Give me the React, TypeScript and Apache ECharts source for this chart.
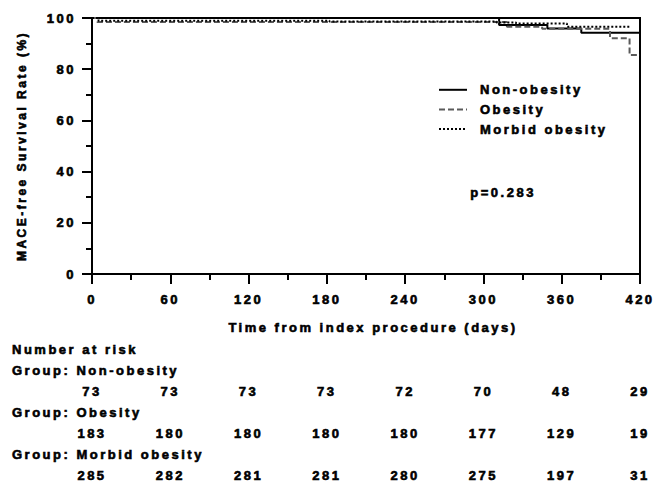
import React, { useEffect, useRef } from "react";
import * as echarts from "echarts";

// Kaplan-Meier step data (time in days, survival %)
const nonObesityTimes = [0, 312, 349, 375, 420];
const nonObesitySurv = [100, 97.3, 95.9, 94.2, 94.2];
const obesityTimes = [0, 4, 318, 345, 397, 412, 420];
const obesitySurv = [100, 98.4, 96.6, 95.8, 92.1, 85.5, 85.5];
const morbidTimes = [0, 5, 182, 310, 325, 364, 412];
const morbidSurv = [100, 98.9, 98.6, 98.2, 97.9, 96.6, 96.6];

const groupNames = ["Non-obesity", "Obesity", "Morbid obesity"];
const riskTimes = [0, 60, 120, 180, 240, 300, 360, 420];
const atRiskNonObesity = [73, 73, 73, 73, 72, 70, 48, 29];
const atRiskObesity = [183, 180, 180, 180, 180, 177, 129, 19];
const atRiskMorbid = [285, 282, 281, 281, 280, 275, 197, 31];
const pValueText = "p=0.283";

const FONT = "'Liberation Sans', Arial, sans-serif";

function pairs(t: number[], s: number[]) {
  return t.map((v, i) => [v, s[i]]);
}

export default function App() {
  const ref = useRef<HTMLDivElement>(null);
  useEffect(() => {
    document.body.style.margin = "0";
    if (!ref.current) return;
    const chart = echarts.init(ref.current, undefined, { renderer: "svg" });
    const txt = {
      fontFamily: FONT,
      fontWeight: "bold" as const,
      fontSize: 13,
      color: "#000",
      textBorderColor: "#000",
      textBorderWidth: 0.6,
    };
    chart.setOption({
      animation: false,
      grid: {
        left: 92,
        right: 15,
        top: 18,
        bottom: 208,
        show: true,
        borderColor: "#000",
        borderWidth: 2,
      },
      xAxis: {
        type: "value",
        min: 0,
        max: 420,
        interval: 60,
        name: "Time from index procedure (days)",
        nameLocation: "middle",
        nameGap: 47,
        nameTextStyle: { ...txt, padding: [0, 0, 0, 14] },
        axisLine: { show: true, lineStyle: { color: "#000", width: 2 } },
        axisTick: { show: true, length: 10, lineStyle: { color: "#000", width: 2 } },
        minorTick: { show: true, splitNumber: 2, length: 6, lineStyle: { color: "#000", width: 2 } },
        axisLabel: { ...txt, margin: 19 },
        splitLine: { show: false },
      },
      yAxis: {
        type: "value",
        min: 0,
        max: 100,
        interval: 20,
        name: "MACE-free Survival Rate (%)",
        nameLocation: "middle",
        nameGap: 64,
        nameTextStyle: { ...txt, fontSize: 12 },
        axisLine: { show: true, lineStyle: { color: "#000", width: 2 } },
        axisTick: { show: true, length: 10, lineStyle: { color: "#000", width: 2 } },
        minorTick: { show: true, splitNumber: 2, length: 6, lineStyle: { color: "#000", width: 2 } },
        axisLabel: { ...txt, margin: 16 },
        splitLine: { show: false },
      },
      legend: {
        orient: "vertical",
        left: 433,
        top: 78,
        itemWidth: 28,
        itemHeight: 14,
        itemGap: 6,
        itemStyle: { opacity: 0 },
        lineStyle: { width: 2 },
        textStyle: { ...txt, padding: [0, 0, 0, 8] },
        data: groupNames,
      },
      series: [
        {
          name: groupNames[0],
          type: "line",
          step: "end",
          symbol: "none",
          data: pairs(nonObesityTimes, nonObesitySurv),
          lineStyle: { color: "#000", width: 2, type: "solid" },
          itemStyle: { color: "#000" },
        },
        {
          name: groupNames[1],
          type: "line",
          step: "end",
          symbol: "none",
          data: pairs(obesityTimes, obesitySurv),
          lineStyle: { color: "#5a5a5a", width: 2, type: [6, 3] },
          itemStyle: { color: "#5a5a5a" },
        },
        {
          name: groupNames[2],
          type: "line",
          step: "end",
          symbol: "none",
          data: pairs(morbidTimes, morbidSurv),
          lineStyle: { color: "#000", width: 2, type: [2, 2] },
          itemStyle: { color: "#000" },
        },
      ],
    });

    const rows = [
      { label: "Group: " + groupNames[0], values: atRiskNonObesity },
      { label: "Group: " + groupNames[1], values: atRiskObesity },
      { label: "Group: " + groupNames[2], values: atRiskMorbid },
    ];
    const tStyle = (text: string, extra: any = {}) => ({
      text,
      font: `bold 13px ${FONT}`,
      fill: "#000",
      stroke: "#000",
      lineWidth: 0.6,
      ...extra,
    });
    const graphics: any[] = [
      { type: "text", left: 470, top: 186, style: tStyle(pValueText) },
      { type: "text", x: 12, y: 349, style: tStyle("Number at risk", { verticalAlign: "middle" }) },
    ];
    rows.forEach((row, r) => {
      const yLabel = 370 + r * 42;
      const yNum = 391 + r * 42;
      graphics.push({
        type: "text",
        x: 12,
        y: yLabel,
        style: tStyle(row.label, { verticalAlign: "middle" }),
      });
      row.values.forEach((v, i) => {
        const px = chart.convertToPixel({ xAxisIndex: 0 }, riskTimes[i]) as number;
        graphics.push({
          type: "text",
          x: px,
          y: yNum,
          style: tStyle(String(v), { align: "center", verticalAlign: "middle" }),
        });
      });
    });
    chart.setOption({ graphic: graphics });
    return () => chart.dispose();
  }, []);
  return <div ref={ref} style={{ width: 655, height: 482, letterSpacing: "2.5px" }} />;
}
